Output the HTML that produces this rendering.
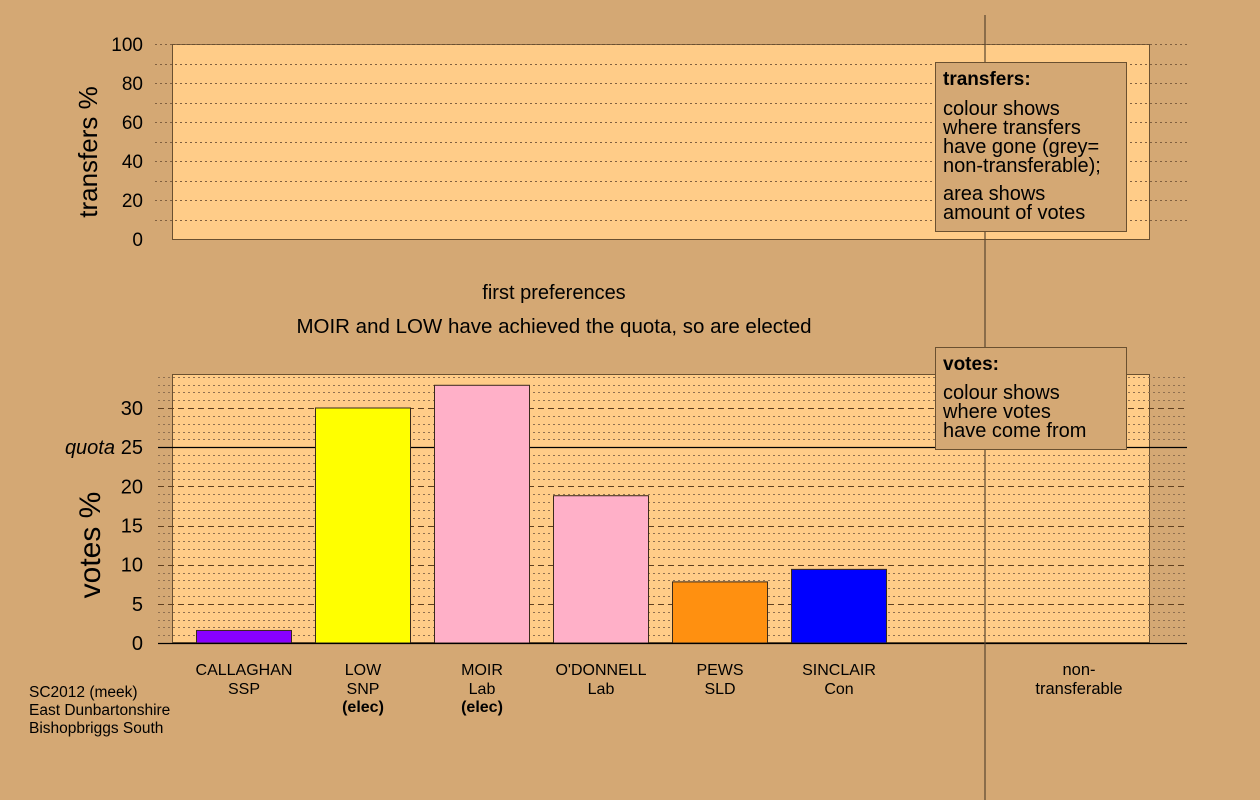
<!DOCTYPE html>
<html><head><meta charset="utf-8"><style>
body{margin:0;background:#D4A874;}
svg{display:block;font-family:"Liberation Sans",sans-serif;}
</style></head><body>
<svg id="c" width="1260" height="800" xmlns="http://www.w3.org/2000/svg">
<rect width="1260" height="800" fill="#D4A874"/>
<g id="topPanel"></g>
<g id="botPanel"></g>
<line x1="985" y1="15" x2="985" y2="800" stroke="#5a4630" stroke-width="1.2"/>
<g>
<rect x="935.5" y="62.5" width="191" height="169" fill="#D4A874" stroke="#6a5030"/>
<text x="943" y="85" font-size="19" font-weight="bold">transfers:</text>
<text font-size="20"><tspan x="943" y="115">colour shows</tspan><tspan x="943" y="134">where transfers</tspan><tspan x="943" y="153">have gone (grey=</tspan><tspan x="943" y="172">non-transferable);</tspan><tspan x="943" y="200">area shows</tspan><tspan x="943" y="219">amount of votes</tspan></text>
</g>
<g>
<rect x="935.5" y="347.5" width="191" height="102" fill="#D4A874" stroke="#6a5030"/>
<text x="943" y="370" font-size="19" font-weight="bold">votes:</text>
<text font-size="20"><tspan x="943" y="399">colour shows</tspan><tspan x="943" y="418">where votes</tspan><tspan x="943" y="437">have come from</tspan></text>
</g>
<text x="554" y="299" font-size="20" text-anchor="middle">first preferences</text>
<text x="554" y="333" font-size="20.5" text-anchor="middle">MOIR and LOW have achieved the quota, so are elected</text>
<text transform="translate(97,152) rotate(-90)" font-size="26" text-anchor="middle">transfers %</text>
<text transform="translate(100,545) rotate(-90)" font-size="30" text-anchor="middle">votes %</text>
<text font-size="15.5"><tspan x="29" y="697">SC2012 (meek)</tspan><tspan x="29" y="715">East Dunbartonshire</tspan><tspan x="29" y="733">Bishopbriggs South</tspan></text>
<text x="1079" y="675" font-size="16.5" text-anchor="middle">non-</text>
<text x="1079" y="694" font-size="16.5" text-anchor="middle">transferable</text>
</svg>
<script>
const candidates=["CALLAGHAN","LOW","MOIR","O'DONNELL","PEWS","SINCLAIR"];
const parties=["SSP","SNP","Lab","Lab","SLD","Con"];
const elected=[false,true,true,false,false,false];
const votes=[1.6,30,32.9,18.8,7.8,9.4];
const barColors=["#8800FF","#FFFF00","#FFB0C8","#FFB0C8","#FF9010","#0000FF"];
const voteTicks=[0,5,10,15,20,25,30];
const transferTicks=[0,20,40,60,80,100];
const quota=25;

const NS="http://www.w3.org/2000/svg";
function mk(tag,attrs,parent){const e=document.createElementNS(NS,tag);for(const k in attrs)e.setAttribute(k,attrs[k]);parent.appendChild(e);return e;}
const yV=v=>643-v*(235/30);
const yT=v=>239-v*1.95;
const xC=i=>244+i*119;
const topG=document.getElementById('topPanel'),botG=document.getElementById('botPanel');

let r=mk('rect',{x:172.5,y:44.5,width:977,height:195,fill:'#FFCC88',stroke:'#6a5030'},topG);


for(let v=10;v<=100;v+=10){
  let l=mk('line',{x1:155,x2:1187,y1:Math.round(yT(v))+0.5,y2:Math.round(yT(v))+0.5,stroke:'#806040','stroke-dasharray':'2,3','stroke-width':1},topG);
  
  
}
transferTicks.forEach(v=>{
  let t=mk('text',{x:143,y:yT(v)+7,'font-size':19,'text-anchor':'end'},topG);t.textContent=v;
  
  
});

r=mk('rect',{x:172.5,y:374.5,width:977,height:268,fill:'#FFCC88',stroke:'#6a5030'},botG);


for(let v=1;v<=34;v++){
  if(v===quota)continue;
  const major=v%5===0;
  let l=mk('line',{x1:158,x2:1187,y1:Math.round(yV(v))+0.5,y2:Math.round(yV(v))+0.5,stroke:major?'#604020':'#907050','stroke-dasharray':major?'6,4':'2,3','stroke-width':1},botG);
  
  
}
let q=mk('line',{x1:158,x2:1187,y1:Math.round(yV(quota))+0.5,y2:Math.round(yV(quota))+0.5,stroke:'#000','stroke-width':1.3},botG);


let qt=mk('text',{x:115,y:yV(quota)+7,'font-size':20,'font-style':'italic','text-anchor':'end'},botG);qt.textContent='quota';


voteTicks.forEach(v=>{
  let t=mk('text',{x:143,y:yV(v)+7,'font-size':20,'text-anchor':'end'},botG);t.textContent=v;
  
  
});
votes.forEach((v,i)=>{
  let b=mk('rect',{x:xC(i)-47.5,y:yV(v),width:95,height:643-yV(v),fill:barColors[i],stroke:'#3a2a1a','stroke-width':1},botG);
  
  
  let t=mk('text',{x:xC(i),y:675,'font-size':16,'text-anchor':'middle'},botG);t.textContent=candidates[i];
  
  
  let p=mk('text',{x:xC(i),y:694,'font-size':16,'text-anchor':'middle'},botG);p.textContent=parties[i];
  
  
  if(elected[i]){
    let e=mk('text',{x:xC(i),y:712,'font-size':16,'font-weight':'bold','text-anchor':'middle'},botG);e.textContent='(elec)';
    
    
  }
});
let ax=mk('line',{x1:158,x2:1187,y1:643.5,y2:643.5,stroke:'#000','stroke-width':1.3},botG);


</script>
</body></html>
